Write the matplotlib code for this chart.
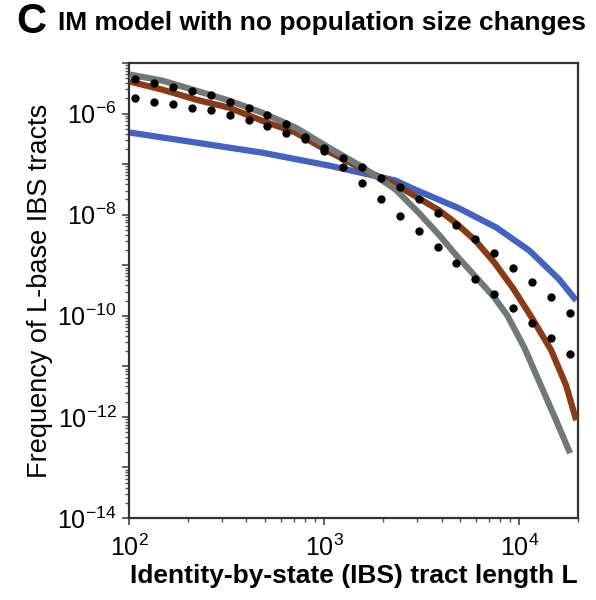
import matplotlib
matplotlib.use("Agg")
import matplotlib.pyplot as plt
from matplotlib.ticker import LogLocator, FuncFormatter, NullFormatter
import numpy as np

plt.rcParams['font.family'] = ['Liberation Sans', 'DejaVu Sans']
plt.rcParams['mathtext.fontset'] = 'custom'
plt.rcParams['mathtext.rm'] = 'Liberation Sans'
plt.rcParams['mathtext.it'] = 'Liberation Sans'

# tract length L (bases) and frequency for each curve
gray_L = [101, 148, 220, 325, 479, 714, 1055, 1555, 2323, 3076, 3944, 4761, 6026, 7447,
          8684, 10610, 12970, 15450, 18230]
gray_F = [5.90e-6, 4.49e-6, 2.85e-6, 1.81e-6, 1.05e-6, 5.29e-7, 2.13e-7, 8.97e-8, 3.15e-8,
          1.06e-8, 3.71e-9, 1.56e-9, 5.74e-10, 2.31e-10, 1.02e-10, 2.37e-11, 4.03e-12,
          8.57e-13, 1.91e-13]

brown_L = [101, 148, 220, 325, 479, 714, 1055, 1555, 2323, 3898, 4761, 5957, 7447, 9311,
           11660, 14590, 17390, 19590]
brown_F = [4.29e-6, 2.98e-6, 1.89e-6, 1.31e-6, 7.27e-7, 4.21e-7, 1.77e-7, 8.19e-8, 3.95e-8,
           1.21e-8, 6.70e-9, 3.09e-9, 1.14e-9, 3.48e-10, 8.89e-11, 2.07e-11, 4.21e-12, 8.57e-13]

blue_L = [101, 220, 479, 1055, 2323, 2838, 4932, 7621, 11250, 16030, 19590]
blue_F = [4.21e-7, 2.67e-7, 1.69e-7, 9.38e-8, 4.74e-8, 3.30e-8, 1.33e-8, 5.58e-9,
          1.96e-9, 5.24e-10, 2.01e-10]

# simulated tract counts (dots), shared lengths
dots_L = [107, 134, 168, 210, 262, 328, 410, 512, 640, 800, 1000, 1250, 1563, 1953,
          2441, 3052, 3815, 4768, 5960, 7451, 9313, 11642, 14552, 18190]
dots_steep_F = [4.92e-6, 4.10e-6, 3.42e-6, 2.85e-6, 2.37e-6, 1.73e-6, 1.31e-6, 9.55e-7,
                6.34e-7, 3.36e-7, 1.85e-7, 8.57e-8, 4.14e-8, 2.00e-8, 9.2e-9, 4.66e-9,
                2.25e-9, 1.09e-9, 5.24e-10, 2.65e-10, 1.40e-10, 7.08e-11, 3.57e-11, 1.73e-11]
dots_flat_F = [2.07e-6, 1.73e-6, 1.58e-6, 1.31e-6, 1.20e-6, 9.55e-7, 7.61e-7, 5.79e-7,
               4.21e-7, 3.21e-7, 2.05e-7, 1.35e-7, 8.57e-8, 5.43e-8, 3.45e-8, 2.00e-8,
               1.10e-8, 6.12e-9, 3.24e-9, 1.71e-9, 8.65e-10, 4.57e-10, 2.31e-10, 1.11e-10]

fig = plt.figure(figsize=(5.96, 6.0), dpi=100)
ax = fig.add_axes([0.2164, 0.1367, 0.7533, 0.7583])

ax.plot(blue_L, blue_F, color='#4462c4', lw=4.5, solid_capstyle='butt', zorder=2)
ax.plot(brown_L, brown_F, color='#8a3b14', lw=4.5, solid_capstyle='butt', zorder=3)
ax.plot(gray_L, gray_F, color='#717878', lw=4.5, solid_capstyle='butt', zorder=4)
ax.plot(dots_L, dots_steep_F, 'o', color='black', ms=6, mec='none', zorder=5)
ax.plot(dots_L, dots_flat_F, 'o', color='black', ms=6, mec='none', zorder=5)

ax.set_xscale('log')
ax.set_yscale('log')
ax.set_xlim(100, 20000)
ax.set_ylim(1e-14, 1e-5)

ax.xaxis.set_major_locator(LogLocator(base=10, numticks=10))
ax.xaxis.set_minor_locator(LogLocator(base=10, subs=np.arange(2, 10), numticks=20))
ax.yaxis.set_major_locator(LogLocator(base=10, numticks=20))
ax.yaxis.set_minor_locator(LogLocator(base=10, subs=np.arange(2, 10), numticks=40))


def even_decades(v, pos):
    e = int(round(np.log10(v)))
    if e % 2:
        return ''
    return r'$10^{%d}$' % e


ax.yaxis.set_major_formatter(FuncFormatter(even_decades))
ax.xaxis.set_major_formatter(FuncFormatter(lambda v, p: r'$10^{%d}$' % int(round(np.log10(v)))))
ax.xaxis.set_minor_formatter(NullFormatter())
ax.yaxis.set_minor_formatter(NullFormatter())

ax.tick_params(axis='both', which='major', direction='out', length=5, width=1.2,
               labelsize=18, color='#444444', top=False, right=False)
ax.tick_params(axis='both', which='minor', direction='out', length=3, width=1.0,
               color='#555555', top=False, right=False)
ax.tick_params(axis='x', which='major', pad=7)
ax.tick_params(axis='y', which='major', pad=4)

for side in ['left', 'bottom', 'top', 'right']:
    ax.spines[side].set_linewidth(1.6)
    ax.spines[side].set_color('#333333')

ax.set_xlabel('Identity-by-state (IBS) tract length L', fontsize=19,
              fontweight='bold', labelpad=2)
ax.set_ylabel('Frequency of L-base IBS tracts', fontsize=19.5, labelpad=3)

fig.text(0.027, 0.963, 'C', fontsize=30, fontweight='bold', va='center', ha='left')
fig.text(0.098, 0.962, 'IM model with no population size changes', fontsize=19,
         fontweight='bold', va='center', ha='left')

fig.savefig('out.png', dpi=100)
